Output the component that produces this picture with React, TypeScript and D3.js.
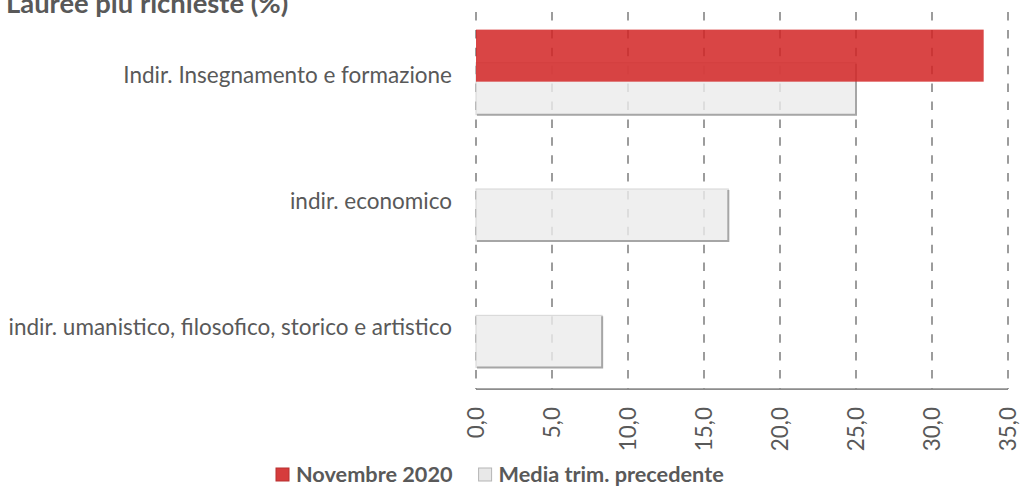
import React, { useEffect, useRef } from "react";
import * as d3 from "d3";

const title = "Lauree più richieste (%)";
const categories = [
  "Indir. Insegnamento e formazione",
  "indir. economico",
  "indir. umanistico, filosofico, storico e artistico",
];
const seriesNames = ["Novembre 2020", "Media trim. precedente"];
const nov2020 = [33.4, 0, 0];
const mediaPrev = [25.0, 16.6, 8.3];
const tickValues = [0, 5, 10, 15, 20, 25, 30, 35];

const FONT = "Lato, 'Noto Sans', sans-serif";

export default function App() {
  const ref = useRef<SVGSVGElement>(null);
  useEffect(() => {
    const svg = d3.select(ref.current);
    svg.selectAll("*").remove();
    const plot = { left: 476, right: 1008, top: 10, bottom: 389 };
    const x = d3.scaleLinear().domain([0, 35]).range([plot.left, plot.right]);
    const y = d3.scaleBand<string>().domain(categories).range([plot.top, plot.bottom]).padding(0);
    const bw = y.bandwidth();
    const barH = bw * 0.412;
    const shift = barH * 0.635;

    // gridlines
    svg.append("g").selectAll("line").data(tickValues).join("line")
      .attr("x1", d => x(d)).attr("x2", d => x(d))
      .attr("y1", 12).attr("y2", plot.bottom)
      .attr("stroke", "#8f8f8f").attr("stroke-width", 1.75)
      .attr("stroke-dasharray", "8.5,9.4");

    // gray bars (previous avg)
    const g2 = svg.append("g");
    categories.forEach((c, i) => {
      const c0 = y(c)! + bw / 2;
      const top = c0 - (barH + shift) / 2 + shift - 1;
      const x0 = x(0), x1 = x(mediaPrev[i]);
      g2.append("rect").attr("x", x0).attr("y", top).attr("width", x1 - x0).attr("height", barH)
        .attr("fill", "#ececec").attr("fill-opacity", 0.82)
        .attr("stroke", "#d6d6d6").attr("stroke-width", 1);
      g2.append("path")
        .attr("d", `M${x1},${top + 1}L${x1},${top + barH}L${x0 + 1},${top + barH}`)
        .attr("fill", "none").attr("stroke", "#a6a6a6").attr("stroke-width", 2);
    });

    // red bars
    const g1 = svg.append("g");
    categories.forEach((c, i) => {
      if (!nov2020[i]) return;
      const c0 = y(c)! + bw / 2;
      const top = c0 - (barH + shift) / 2 - 1;
      g1.append("rect").attr("x", x(0)).attr("y", top).attr("width", x(nov2020[i]) - x(0)).attr("height", barH)
        .attr("fill", "rgb(210,36,36)").attr("fill-opacity", 0.85);
    });

    // axis line
    svg.append("line").attr("x1", plot.left).attr("x2", plot.right)
      .attr("y1", plot.bottom).attr("y2", plot.bottom)
      .attr("stroke", "#8c8c8c").attr("stroke-width", 1.75);

    const fmt = (v: number) => v.toFixed(1).replace(".", ",");
    svg.append("g").selectAll("text").data(tickValues).join("text")
      .attr("transform", d => `translate(${x(d)},407) rotate(-90)`)
      .attr("text-anchor", "end").attr("dy", "0.35em")
      .attr("font-family", FONT).attr("font-size", 22.5).attr("fill", "#595959")
      .text(d => fmt(d));

    // category labels
    svg.append("g").selectAll("text").data(categories).join("text")
      .attr("x", 452).attr("y", d => y(d)! + bw / 2 + 1.5).attr("dy", "0.35em")
      .attr("text-anchor", "end")
      .attr("font-family", FONT).attr("font-size", 22.5).attr("fill", "#595959")
      .text(d => d);

    // title
    svg.append("text").attr("x", 6).attr("y", 13)
      .attr("font-family", FONT).attr("font-weight", "bold").attr("font-size", 27.4)
      .attr("fill", "#595959").text(title);

    // legend
    const lg = svg.append("g");
    const fills = [["rgb(214,60,60)", "#b83030"], ["#e8e8e8", "#b5b5b5"]];
    let cx = 276;
    seriesNames.forEach((n, i) => {
      lg.append("rect").attr("x", cx).attr("y", 468).attr("width", 13).attr("height", 13)
        .attr("fill", fills[i][0]).attr("stroke", fills[i][1]).attr("stroke-width", 1);
      const t = lg.append("text").attr("x", cx + 20).attr("y", 482)
        .attr("font-family", FONT).attr("font-weight", "bold").attr("font-size", 21.7)
        .attr("fill", "#595959").text(n);
      const w = (t.node() as SVGTextElement).getComputedTextLength();
      cx = cx + 20 + w + 26;
    });
  }, []);
  return (
    <svg ref={ref} width={1020} height={486} style={{ position: "absolute", left: 0, top: 0, background: "#fff" }} />
  );
}
